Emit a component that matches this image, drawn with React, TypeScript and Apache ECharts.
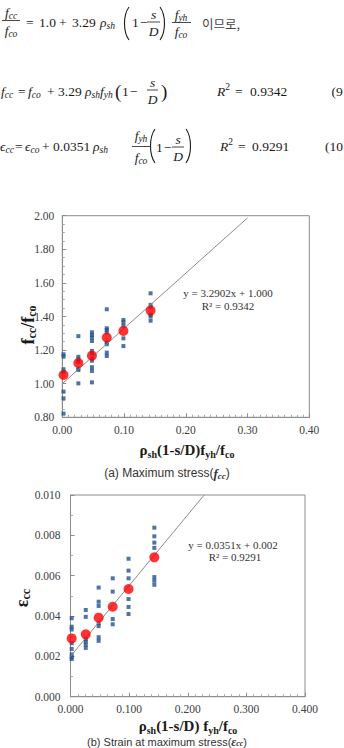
import React, { useEffect, useRef } from 'react';
import * as echarts from 'echarts';

// ---------- data ----------
const columnX = [0.002, 0.026, 0.048, 0.072, 0.099, 0.143];

const stressSamples = [
  [1.175, 1.162, 1.085, 1.07, 0.953, 0.913, 0.822],
  [1.283, 1.16, 1.145, 1.13, 1.09, 1.082, 1.002],
  [1.306, 1.29, 1.275, 1.254, 1.195, 1.18, 1.15, 1.137, 1.098, 1.076, 1.008],
  [1.443, 1.33, 1.32, 1.305, 1.245, 1.235, 1.185, 1.165],
  [1.379, 1.365, 1.345, 1.27, 1.224],
  [1.538, 1.469, 1.455, 1.41, 1.4, 1.375],
];
const stressMeans = [1.052, 1.123, 1.167, 1.275, 1.314, 1.435];
const stressTrendX = [0, 0.3];
const stressTrendY = [1.0, 1.987];

const strainSamples = [
  [0.00389, 0.00347, 0.00333, 0.00265, 0.00237, 0.0021, 0.00195, 0.00187],
  [0.0043, 0.00396, 0.00285, 0.00273, 0.00258, 0.00242],
  [0.00541, 0.00471, 0.0045, 0.00364, 0.0035, 0.00295, 0.00277],
  [0.00587, 0.00521, 0.00385, 0.00359],
  [0.00684, 0.00625, 0.00587, 0.00484, 0.00445, 0.0041],
  [0.00838, 0.00795, 0.00764, 0.00738, 0.00593, 0.00575, 0.00555],
];
const strainMeans = [0.00289, 0.00309, 0.00392, 0.00446, 0.00534, 0.00691];
const strainTrendX = [0, 0.228];
const strainTrendY = [0.002, 0.010];

// ---------- styles ----------
const SERIF = '"Liberation Serif", "Times New Roman", "DejaVu Serif", serif';
const SANS = '"Liberation Sans", Arial, sans-serif';
const CJK = '"Noto Sans CJK KR", sans-serif';
const INK = '#1a1a1a';
const AXIS = '#8c8c8c';
const M = 13.5;
const MS = 9.5;

const mathRich: any = {
  i: { fontFamily: SERIF, fontStyle: 'italic', fontSize: M, lineHeight: 18, fill: INK },
  r: { fontFamily: SERIF, fontSize: M, lineHeight: 18, fill: INK },
  s: { fontFamily: SERIF, fontStyle: 'italic', fontSize: MS, lineHeight: 10, verticalAlign: 'bottom', fill: INK },
  u: { fontFamily: SERIF, fontSize: MS, lineHeight: 10, verticalAlign: 'top', fill: INK },
};

const titleRich: any = {
  b: { fontFamily: SERIF, fontWeight: 'bold', fontSize: 15, lineHeight: 18, fill: INK },
  bs: { fontFamily: SERIF, fontWeight: 'bold', fontSize: 10, lineHeight: 10, verticalAlign: 'bottom', fill: INK },
};
const yTitleRich: any = {
  b: { fontFamily: SERIF, fontWeight: 'bold', fontSize: 18, lineHeight: 20, fill: INK },
  bs: { fontFamily: SERIF, fontWeight: 'bold', fontSize: 12, lineHeight: 11, verticalAlign: 'bottom', fill: INK },
};
const capRich: any = {
  n: { fontFamily: SANS, fontSize: 12, lineHeight: 15, fill: '#333' },
  f: { fontFamily: SERIF, fontStyle: 'italic', fontWeight: 'bold', fontSize: 13, lineHeight: 15, fill: '#333' },
  fs: { fontFamily: SERIF, fontStyle: 'italic', fontWeight: 'bold', fontSize: 9, lineHeight: 9, verticalAlign: 'bottom', fill: '#333' },
};
const capRichSmall: any = {
  n: { fontFamily: SANS, fontSize: 11, lineHeight: 12, fill: '#333' },
  f: { fontFamily: SERIF, fontStyle: 'italic', fontWeight: 'bold', fontSize: 12, lineHeight: 12, fill: '#333' },
  fs: { fontFamily: SERIF, fontStyle: 'italic', fontWeight: 'bold', fontSize: 8, lineHeight: 8, verticalAlign: 'bottom', fill: '#333' },
};

function T(x: number, y: number, text: string, o: any = {}) {
  const align = o.align || 'left';
  return {
    type: 'text',
    x,
    y,
    rotation: o.rotation || 0,
    silent: true,
    z: 20,
    style: {
      text,
      fontSize: o.size || M,
      fontFamily: o.family || SERIF,
      fontStyle: o.fstyle || 'normal',
      fontWeight: o.weight || 'normal',
      fill: o.fill || INK,
      align,
      verticalAlign: 'middle',
      textAlign: align,
      textVerticalAlign: 'middle',
      rich: o.rich,
    },
  };
}
const mt = (x: number, y: number, text: string, align = 'left') => T(x, y, text, { rich: mathRich, align });
const bar = (x1: number, x2: number, y: number) => ({
  type: 'line',
  silent: true,
  z: 20,
  shape: { x1, y1: y, x2, y2: y },
  style: { stroke: INK, lineWidth: 0.8 },
});
const paren = (x: number, top: number, bottom: number, left: boolean) => {
  const w = 6;
  const h = bottom - top;
  const outer = left ? x + w : x;
  const inner = left ? x : x + w;
  return {
    type: 'bezierCurve',
    silent: true,
    z: 20,
    shape: {
      x1: outer, y1: top,
      cpx1: inner, cpy1: top + h * 0.25,
      cpx2: inner, cpy2: top + h * 0.75,
      x2: outer, y2: bottom,
    },
    style: { stroke: INK, lineWidth: 1.1, fill: null },
  };
};

function buildGraphic() {
  const g: any[] = [];
  // ---- line 1 ----
  g.push(mt(11, 12, '{i|f}{s|cc}', 'center'), bar(2, 20, 20.5), mt(11, 30, '{i|f}{s|co}', 'center'));
  g.push(mt(26, 22, '{r|=}'), mt(39, 22, '{r|1.0}'), mt(59, 22, '{r|+}'), mt(72, 22, '{r|3.29}'), mt(100, 22, '{i|ρ}{s|sh}'));
  g.push(paren(123, 7, 40, true), mt(132, 22, '{r|1}'), mt(140, 22, '{r|−}'));
  g.push(mt(153.5, 14, '{i|s}', 'center'), bar(147, 160, 22), mt(153.5, 31, '{i|D}', 'center'));
  g.push(paren(160, 7, 40, false));
  g.push(mt(181, 14, '{i|f}{s|yh}', 'center'), bar(172, 191, 22.5), mt(181, 31, '{i|f}{s|co}', 'center'));
  g.push(T(202, 23, '이므로,', { family: CJK, size: 12.5, fill: '#444' }));
  // ---- line 2 ----
  g.push(mt(1, 91, '{i|f}{s|cc}'), mt(18, 91, '{r|=}'), mt(28, 91, '{i|f}{s|co}'), mt(47, 91, '{r|+}'), mt(58, 91, '{r|3.29}'));
  g.push(mt(85, 91, '{i|ρ}{s|sh}'), mt(100, 91, '{i|f}{s|yh}'));
  g.push(T(115, 91, '(', { size: 19 }), mt(122, 91, '{r|1}'), mt(130, 91, '{r|−}'));
  g.push(mt(152.5, 82, '{i|s}', 'center'), bar(147, 158, 90), mt(152.5, 99, '{i|D}', 'center'));
  g.push(T(161, 91, ')', { size: 19 }));
  g.push(mt(217, 91, '{i|R}{u|2}'), mt(235, 91, '{r|=}'), mt(250, 91, '{r|0.9342}'), mt(331.5, 91, '{r|(9}'));
  // ---- line 3 ----
  g.push(mt(0, 146, '{i|ϵ}{s|cc}'), mt(15, 146, '{r|=}'), mt(25, 146, '{i|ϵ}{s|co}'), mt(42, 146, '{r|+}'), mt(53, 146, '{r|0.0351}'));
  g.push(mt(93, 146, '{i|ρ}{s|sh}'));
  g.push(mt(141, 135, '{i|f}{s|yh}', 'center'), bar(132, 150, 146.5), mt(141, 157, '{i|f}{s|co}', 'center'));
  g.push(paren(149, 129, 163, true), mt(156, 147, '{r|1}'), mt(164, 147, '{r|−}'));
  g.push(mt(178, 139, '{i|s}', 'center'), bar(172, 184, 147), mt(178, 156, '{i|D}', 'center'));
  g.push(paren(186, 129, 163, false));
  g.push(mt(220, 146, '{i|R}{u|2}'), mt(238, 146, '{r|=}'), mt(252, 146, '{r|0.9291}'), mt(325, 146, '{r|(10}'));

  // ---- chart 1 texts ----
  g.push(T(228, 293, 'y = 3.2902x + 1.000', { size: 11, align: 'center', fill: '#333' }));
  g.push(T(228, 306, 'R² = 0.9342', { size: 11, align: 'center', fill: '#333' }));
  g.push(T(187, 450, '{b|ρ}{bs|sh}{b|(1-s/D)f}{bs|yh}{b|/f}{bs|co}', { rich: titleRich, align: 'center' }));
  g.push(T(28, 325, '{b|f}{bs|cc}{b|/f}{bs|co}', { rich: yTitleRich, align: 'center', rotation: Math.PI / 2 }));
  g.push(T(167, 473, '{n|(a) Maximum stress(}{f|f}{fs|cc}{n|)}', { rich: capRich, align: 'center' }));

  // ---- chart 2 texts ----
  g.push(T(233, 545, 'y = 0.0351x + 0.002', { size: 11, align: 'center', fill: '#333' }));
  g.push(T(235, 557, 'R² = 0.9291', { size: 11, align: 'center', fill: '#333' }));
  g.push(T(188, 726, '{b|ρ}{bs|sh}{b|(1-s/D) f}{bs|yh}{b|/f}{bs|co}', { rich: titleRich, align: 'center' }));
  g.push(T(22, 598, '{b|ε}{bs|cc}', { rich: yTitleRich, align: 'center', rotation: Math.PI / 2 }));
  g.push(T(167, 741.5, '{n|(b) Strain at maximum stress(}{f|ε}{fs|cc}{n|)}', { rich: capRichSmall, align: 'center' }));
  return g;
}

function axisCommon(min: number, max: number, interval: number, digits: number, minorSplit: number, margin: number) {
  return {
    type: 'value',
    min,
    max,
    interval,
    axisLine: { show: true, onZero: false, lineStyle: { color: AXIS, width: 1 } },
    axisTick: { show: true, inside: true, length: 4, lineStyle: { color: AXIS } },
    minorTick: { show: true, splitNumber: minorSplit, length: 2.5, lineStyle: { color: '#a8a8a8' } },
    splitLine: { show: false },
    axisLabel: {
      formatter: (v: number) => v.toFixed(digits),
      fontFamily: SERIF,
      fontSize: 11.5,
      color: '#404040',
      margin,
    },
  };
}

const pairs = (samples: number[][]) => samples.flatMap((col, i) => col.map((v) => [columnX[i], v]));
const meanPairs = (means: number[]) => means.map((v, i) => [columnX[i], v]);
const trendPairs = (xs: number[], ys: number[]) => xs.map((x, i) => [x, ys[i]]);

export default function App() {
  const ref = useRef<HTMLDivElement>(null);
  useEffect(() => {
    if (!ref.current) return;
    const chart = echarts.init(ref.current, undefined, { renderer: 'svg' });
    const blue = '#23508c';
    chart.setOption({
      animation: false,
      backgroundColor: '#ffffff',
      grid: [
        { left: 62.3, top: 215.7, width: 247, height: 201.6, show: true, borderColor: AXIS, borderWidth: 1, backgroundColor: 'transparent' },
        { left: 70.5, top: 495, width: 234.5, height: 201.7, show: true, borderColor: AXIS, borderWidth: 1, backgroundColor: 'transparent' },
      ],
      xAxis: [
        { gridIndex: 0, ...axisCommon(0, 0.4, 0.1, 2, 10, 7) },
        { gridIndex: 1, ...axisCommon(0, 0.4, 0.1, 3, 8, 6) },
      ],
      yAxis: [
        { gridIndex: 0, ...axisCommon(0.8, 2.0, 0.2, 2, 4, 8) },
        { gridIndex: 1, ...axisCommon(0, 0.01, 0.002, 3, 2, 10) },
      ],
      series: [
        { type: 'scatter', xAxisIndex: 0, yAxisIndex: 0, data: pairs(stressSamples), symbol: 'rect', symbolSize: 4, itemStyle: { color: blue }, z: 2, silent: true },
        { type: 'line', xAxisIndex: 0, yAxisIndex: 0, data: trendPairs(stressTrendX, stressTrendY), symbol: 'none', lineStyle: { color: AXIS, width: 1 }, z: 3, silent: true },
        { type: 'scatter', xAxisIndex: 0, yAxisIndex: 0, data: meanPairs(stressMeans), symbol: 'circle', symbolSize: 10, itemStyle: { color: '#ff0000' }, z: 4, silent: true },
        { type: 'scatter', xAxisIndex: 1, yAxisIndex: 1, data: pairs(strainSamples), symbol: 'rect', symbolSize: 4, itemStyle: { color: blue }, z: 2, silent: true },
        { type: 'line', xAxisIndex: 1, yAxisIndex: 1, data: trendPairs(strainTrendX, strainTrendY), symbol: 'none', lineStyle: { color: AXIS, width: 1 }, z: 3, silent: true },
        { type: 'scatter', xAxisIndex: 1, yAxisIndex: 1, data: meanPairs(strainMeans), symbol: 'circle', symbolSize: 10, itemStyle: { color: '#ff0000' }, z: 4, silent: true },
      ],
      graphic: { elements: buildGraphic() },
    });
    return () => chart.dispose();
  }, []);
  return <div ref={ref} style={{ position: 'absolute', left: 0, top: 0, width: 344, height: 748, background: '#fff' }} />;
}
